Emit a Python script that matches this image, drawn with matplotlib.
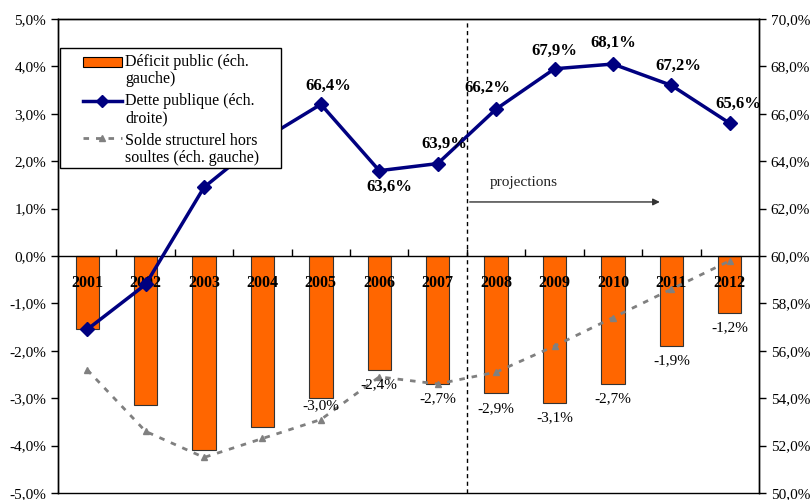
"""Déficit public, dette publique et solde structurel, 2001-2012."""

import matplotlib

matplotlib.use("Agg")

import matplotlib.pyplot as plt
from matplotlib.patches import Rectangle
from matplotlib.lines import Line2D
from matplotlib.ticker import FuncFormatter

plt.rcParams["font.family"] = ["Liberation Serif", "DejaVu Serif"]

YEARS = ["2001", "2002", "2003", "2004", "2005", "2006",
         "2007", "2008", "2009", "2010", "2011", "2012"]
DEFICIT = [-1.55, -3.15, -4.1, -3.6, -3.0, -2.4, -2.7, -2.9, -3.1, -2.7, -1.9, -1.2]
DETTE = [56.9, 58.8, 62.9, 64.9, 66.4, 63.6, 63.9, 66.2, 67.9, 68.1, 67.2, 65.6]
SOLDE = [-2.4, -3.7, -4.25, -3.85, -3.45, -2.55, -2.7, -2.45, -1.9, -1.3, -0.7, -0.1]
LEGEND_LINES = [
    ("Déficit public (éch.", "gauche)"),
    ("Dette publique (éch.", "droite)"),
    ("Solde structurel hors", "soultes (éch. gauche)"),
]
FIRST_LABELLED = 4  # labels only shown from 2005 onwards
PROJECTION_START = 7  # 2008

ORANGE = "#FF6600"
NAVY = "#000080"
GREY = "#808080"
W, H = 812, 500


def pct(v, _pos=None):
    return f"{v:.1f}%".replace(".", ",")


def fx(px):
    return px / W


def fy(px):
    return 1 - px / H


def draw_legend(fig, ax):
    # hand-built legend so handles line up with the first text line
    tf = fig.transFigure
    ax.add_patch(Rectangle((fx(60), fy(168)), fx(221), 120 / H, transform=tf,
                           facecolor="white", edgecolor="black", linewidth=1,
                           clip_on=False, zorder=6))
    rows = [62, 101, 141]
    ax.add_patch(Rectangle((fx(83), fy(rows[0] + 5)), fx(39), 10 / H,
                           transform=tf, facecolor=ORANGE, edgecolor="black",
                           linewidth=0.8, clip_on=False, zorder=7))
    ax.add_line(Line2D([fx(83), fx(122)], [fy(rows[1])] * 2, transform=tf,
                       color=NAVY, linewidth=2.5, clip_on=False, zorder=7))
    ax.add_line(Line2D([fx(102.5)], [fy(rows[1])], transform=tf, color=NAVY,
                       marker="D", markersize=6, clip_on=False, zorder=7))
    ax.add_line(Line2D([fx(83), fx(122)], [fy(rows[2] - 3)] * 2, transform=tf,
                       color=GREY, linestyle=(0, (2.0, 2.5)), linewidth=2.0,
                       clip_on=False, zorder=7))
    ax.add_line(Line2D([fx(102.5)], [fy(rows[2] - 3)], transform=tf,
                       color=GREY, marker="^", markersize=4, clip_on=False,
                       zorder=7))
    for y, (l1, l2) in zip(rows, LEGEND_LINES):
        for k, line in enumerate((l1, l2)):
            ax.text(fx(125), fy(y + 17 * k), line, transform=tf, ha="left",
                    va="center", fontsize=11.5, zorder=8, clip_on=False)


def main() -> int:
    fig = plt.figure(figsize=(W / 100, H / 100), dpi=100)
    ax = fig.add_axes([fx(58), 7 / H, 701 / W, 474 / H])
    ax2 = ax.twinx()

    x = list(range(len(YEARS)))

    ax.bar(x, DEFICIT, width=0.4, color=ORANGE, edgecolor="#333333",
           linewidth=0.8, zorder=2)
    ax.plot(x, SOLDE, color=GREY, linestyle=(0, (2.0, 2.5)), linewidth=2.0,
            marker="^", markersize=5, zorder=3)
    ax2.plot(x, DETTE, color=NAVY, linewidth=2.5, marker="D", markersize=7,
             zorder=3)

    ax.set_axisbelow(False)
    ax.set_xlim(-0.5, len(YEARS) - 0.5)
    ax.set_ylim(-5, 5)
    ax2.set_ylim(50, 70)
    ax.set_yticks([i for i in range(-5, 6)])
    ax2.set_yticks([50 + 2 * i for i in range(11)])
    ax.yaxis.set_major_formatter(FuncFormatter(pct))
    ax2.yaxis.set_major_formatter(FuncFormatter(pct))
    ax.tick_params(axis="y", labelsize=11, length=5, width=1, direction="out")
    ax2.tick_params(axis="y", labelsize=11, length=5, width=1, direction="out")

    # category axis sits on the zero line, frame bottom comes from the twin
    ax.spines["bottom"].set_position(("data", 0))
    ax.set_xticks([i + 0.5 for i in range(len(YEARS) - 1)])
    ax.set_xticklabels([])
    ax.tick_params(axis="x", which="major", direction="in", length=5, width=1)
    ax.set_xticks(x, minor=True)
    ax.set_xticklabels(YEARS, minor=True, fontweight="bold", fontsize=11.5)
    ax.tick_params(axis="x", which="minor", length=0, pad=14)
    for side in ("top", "bottom", "left", "right"):
        ax2.spines[side].set_linewidth(1)
        ax.spines[side].set_linewidth(1)

    for i in range(FIRST_LABELLED, len(YEARS)):
        dy = -1 if i == FIRST_LABELLED else -6
        ax.annotate(pct(DEFICIT[i]), (x[i], DEFICIT[i]), xytext=(0, dy),
                    textcoords="offset points", ha="center", va="top",
                    fontsize=11, zorder=4)

    dette_offsets = {4: (5, 13), 5: (7, -12), 6: (5, 14), 7: (-6, 15),
                     8: (0, 13), 9: (0, 15), 10: (5, 14), 11: (6, 14)}
    for i, (dx, dy) in dette_offsets.items():
        ax2.annotate(f"{DETTE[i]:.1f}%".replace(".", ","), (x[i], DETTE[i]),
                     xytext=(dx, dy), textcoords="offset points",
                     ha="center", va="center", fontsize=12,
                     fontweight="bold")

    # projections marker
    ax.axvline(PROJECTION_START - 0.5, color="black", linestyle=(0, (3, 2.5)),
               linewidth=1, zorder=1)
    ax.annotate("", xy=(PROJECTION_START + 2.85, 1.14),
                xytext=(PROJECTION_START - 0.5, 1.14),
                arrowprops=dict(arrowstyle="-|>", color="#333333", lw=1,
                                mutation_scale=10))
    ax.text(PROJECTION_START + 0.48, 1.56, "projections", ha="center",
            va="center", fontsize=11, color="#222222")

    draw_legend(fig, ax2)

    fig.savefig("out.png", dpi=100)
    plt.close(fig)
    return 0


if __name__ == "__main__":
    raise SystemExit(main())
